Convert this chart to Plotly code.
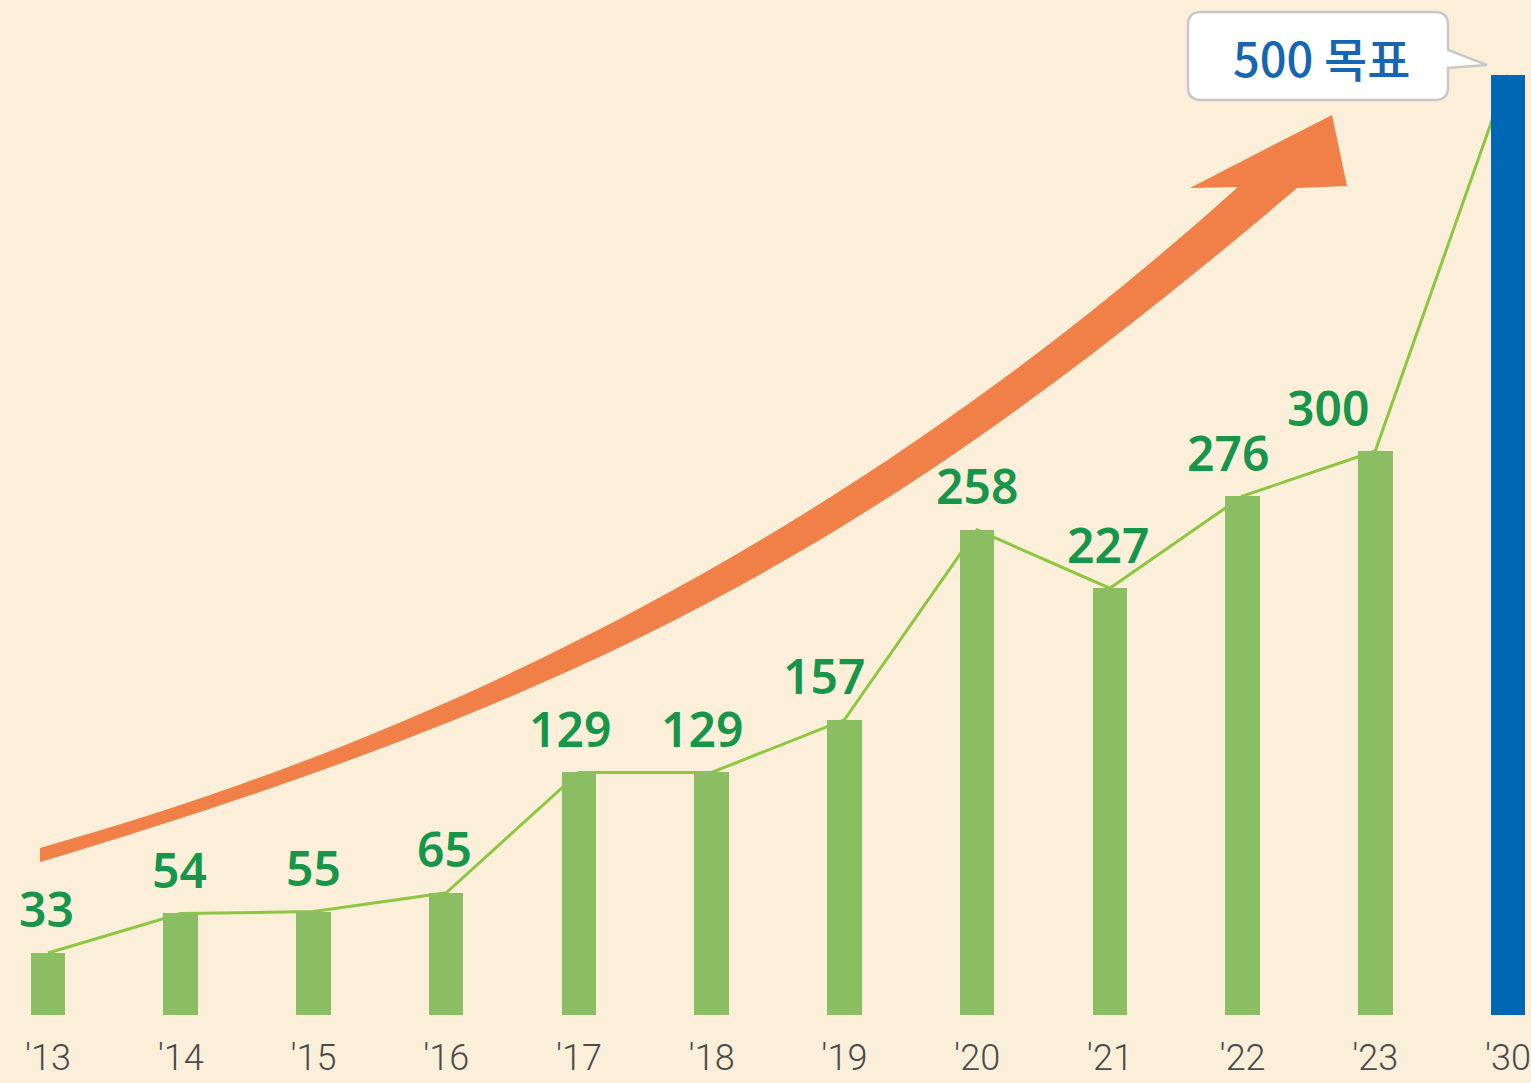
import plotly.graph_objects as go

# ---- data ----
years = ["'13", "'14", "'15", "'16", "'17", "'18", "'19", "'20", "'21", "'22", "'23", "'30"]
values = [33, 54, 55, 65, 129, 129, 157, 258, 227, 276, 300, 500]
target_label = "500 목표"

# ---- style ----
BG = "#FCEFD9"
GREEN_BAR = "#8BBE62"
BLUE_BAR = "#0067B4"
LINE_C = "#8DC640"
LABEL_C = "#17954A"
ORANGE = "#F07F48"
label_dx = [-2, -1, 0, -2, -9, -10, -20, 0, -2, -15, -47]

W, H = 1531, 1083
MB = 68
PH = H - MB  # plot height in px


def P(x, y):
    return x / W, (PH - y) / PH


def fmt(pt):
    x, y = P(*pt)
    return f"{x:.5f},{y:.5f}"


# orange growth arrow (decoration): two cubic edges + head
up = [(40, 848), (490, 722), (888, 502), (1238, 187)]
head = [(1190, 188), (1332, 115), (1347, 186)]
lo = [(1297, 188), (877, 545), (600, 694), (40, 862)]
arrow_path = (
    "M" + fmt(up[0]) + " C" + " ".join(fmt(p) for p in up[1:])
    + " " + " ".join("L" + fmt(p) for p in head)
    + " L" + fmt(lo[0]) + " C" + " ".join(fmt(p) for p in lo[1:]) + " Z"
)

# callout box
L_, R_, T_, B_, r = 1188, 1448, 12, 100, 13
call = [
    ("M", (L_ + r, T_)), ("L", (R_ - r, T_)), ("Q", (R_, T_), (R_, T_ + r)),
    ("L", (R_, 50)), ("L", (1487, 65)), ("L", (R_, 68)),
    ("L", (R_, B_ - r)), ("Q", (R_, B_), (R_ - r, B_)),
    ("L", (L_ + r, B_)), ("Q", (L_, B_), (L_, B_ - r)),
    ("L", (L_, T_ + r)), ("Q", (L_, T_), (L_ + r, T_)),
]
call_path = " ".join(c[0] + " ".join(fmt(p) for p in c[1:]) for c in call) + " Z"

ymax = PH / 1.88
xmin = -48 / 132.7
xmax = 11 + 23 / 132.7

fig = go.Figure()

# connecting line (drawn behind bars via main subplot)
fig.add_trace(go.Scatter(
    x=years, y=values, mode="lines",
    line=dict(color=LINE_C, width=3),
    xaxis="x", yaxis="y", hoverinfo="skip", showlegend=False,
))

bar_colors = [GREEN_BAR] * (len(values) - 1) + [BLUE_BAR]
fig.add_trace(go.Bar(
    x=years, y=values, width=0.26,
    marker=dict(color=bar_colors, line=dict(width=0)),
    xaxis="x", yaxis="y2", showlegend=False,
))

annotations = []
for i, (yr, v) in enumerate(zip(years[:-1], values[:-1])):
    annotations.append(dict(
        x=yr, y=v, xref="x", yref="y", text=str(v), showarrow=False,
        yanchor="middle", xanchor="center", yshift=44, xshift=label_dx[i],
        font=dict(family="Noto Sans", size=48, color=LABEL_C, weight=600),
    ))

cx, cy = P(1321, 56)
annotations.append(dict(
    x=cx, y=cy, xref="paper", yref="paper", text=target_label, showarrow=False,
    xanchor="center", yanchor="middle",
    font=dict(family="Noto Sans CJK KR", size=47, color="#1565B0", weight=500),
))

fig.update_layout(
    width=W, height=H,
    margin=dict(l=0, r=0, t=0, b=MB),
    paper_bgcolor=BG, plot_bgcolor=BG,
    bargap=0,
    xaxis=dict(
        type="category", range=[xmin, xmax], showgrid=False, zeroline=False,
        showline=False, ticks="", ticklabelstandoff=18,
        tickfont=dict(family="Roboto", size=36, color="#4A4A4A", weight=300),
    ),
    yaxis=dict(range=[0, ymax], visible=False, showgrid=False, zeroline=False),
    yaxis2=dict(range=[0, ymax], visible=False, overlaying="y", showgrid=False, zeroline=False),
    shapes=[
        dict(type="path", xref="paper", yref="paper", path=arrow_path,
             fillcolor=ORANGE, line=dict(width=0)),
        dict(type="path", xref="paper", yref="paper", path=call_path,
             fillcolor="white", line=dict(color="#C8C8C8", width=2.5)),
    ],
    annotations=annotations,
)

fig.write_html(
    "out.html",
    config={"displayModeBar": False},
    post_script="document.body.style.margin='0';document.body.style.overflow='hidden';",
)
